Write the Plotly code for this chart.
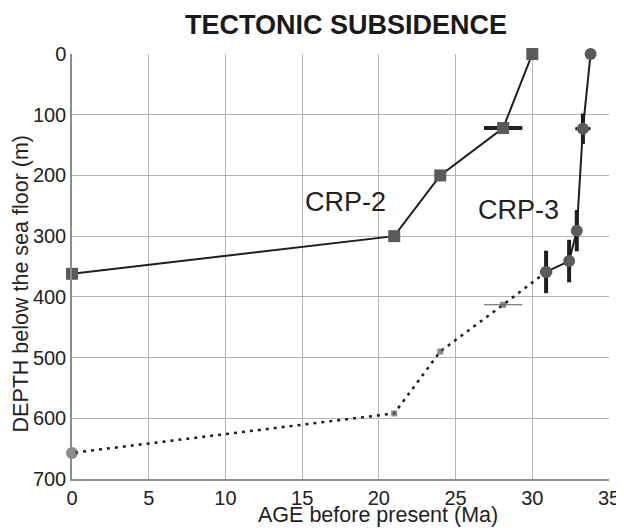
import plotly.graph_objects as go

# CRP-2 (solid line, squares)
crp2_age = [30, 28.1, 24, 21, 0]
crp2_depth = [0, 122, 200, 300, 362]
crp2_age_err = [0, 1.25, 0, 0, 0]

# CRP-3 (solid line, circles)
crp3_age = [33.8, 33.3, 32.9, 32.4, 30.9]
crp3_depth = [0, 123, 291, 341, 359]
crp3_depth_err = [0, 25, 34, 35, 35]
crp3_age_err = [0, 0.5, 0, 0, 0.4]

# CRP-3 continuation (dotted line)
crp3_ext_age = [30.9, 28.1, 24, 21, 0]
crp3_ext_depth = [359, 413, 490, 592, 657]
crp3_ext_age_err = [0, 1.25, 0, 0, 0]

x_ticks = [0, 5, 10, 15, 20, 25, 30, 35]
y_ticks = [0, 100, 200, 300, 400, 500, 600, 700]

FONT = "Liberation Sans, Arial, sans-serif"
LINE = "#1e1e1e"
MARK = "#5a5a5a"
TEXT = "#222"

# page body has an 8px margin, so the figure is 8px smaller each way
W, H = 616, 520

fig = go.Figure()

# dotted continuation
fig.add_trace(go.Scatter(
    x=crp3_ext_age, y=crp3_ext_depth, mode="lines+markers",
    line=dict(color=LINE, width=2.5, dash="3px,5px"),
    marker=dict(symbol=["circle", "square", "square", "square", "circle"],
                size=[12, 6, 6, 6, 12], color=MARK, line=dict(width=0)),
    error_x=dict(type="data", array=crp3_ext_age_err, width=0, thickness=1, color=MARK),
    cliponaxis=False, showlegend=False))

# CRP-2
fig.add_trace(go.Scatter(
    x=crp2_age, y=crp2_depth, mode="lines+markers",
    line=dict(color=LINE, width=2),
    marker=dict(symbol="square", size=12, color=MARK, line=dict(width=0)),
    error_x=dict(type="data", array=crp2_age_err, width=0, thickness=4, color=LINE),
    cliponaxis=False, showlegend=False))

# CRP-3
fig.add_trace(go.Scatter(
    x=crp3_age, y=crp3_depth, mode="lines+markers",
    line=dict(color=LINE, width=2),
    marker=dict(symbol="circle", size=12, color=MARK, line=dict(width=0)),
    error_x=dict(type="data", array=crp3_age_err, width=0, thickness=3, color=LINE),
    error_y=dict(type="data", array=crp3_depth_err, width=0, thickness=4, color=LINE),
    cliponaxis=False, showlegend=False))

fig.add_annotation(x=17.8, y=243, text="CRP-2", showarrow=False,
                   font=dict(family=FONT, size=27, color=TEXT))
fig.add_annotation(x=29.1, y=257, text="CRP-3", showarrow=False,
                   font=dict(family=FONT, size=27, color=TEXT))

# axis titles as paper-positioned annotations
fig.add_annotation(xref="paper", yref="paper", x=0.57, y=-0.085,
                   xanchor="center", yanchor="middle", showarrow=False,
                   text="AGE before present (Ma)",
                   font=dict(family=FONT, size=21.5, color=TEXT))
fig.add_annotation(xref="paper", yref="paper", x=-0.095, y=0.46,
                   xanchor="center", yanchor="middle", showarrow=False,
                   textangle=-90, text="DEPTH below the sea floor (m)",
                   font=dict(family=FONT, size=21.5, color=TEXT))

fig.update_layout(
    width=W, height=H,
    margin=dict(l=64, r=15, t=46, b=49),
    paper_bgcolor="white", plot_bgcolor="white",
    font=dict(family=FONT, color=TEXT),
    title=dict(text="<b>TECTONIC SUBSIDENCE</b>", x=338 / W, xanchor="center",
               xref="container", y=1 - 17 / H, yanchor="middle",
               font=dict(family=FONT, size=27, color="#1a1a1a")),
)
fig.update_xaxes(
    range=[0, 35], tickvals=x_ticks, ticks="", showgrid=True,
    gridcolor="#b4b4b4", gridwidth=1, zeroline=False, automargin=False,
    showline=True, linecolor="#8c8c8c", linewidth=1.5, mirror=False,
    tickfont=dict(family=FONT, size=20, color=TEXT),
)
fig.update_yaxes(
    range=[700, 0], tickvals=y_ticks, ticks="", showgrid=True,
    gridcolor="#b4b4b4", gridwidth=1, zeroline=False, automargin=False,
    showline=True, linecolor="#8c8c8c", linewidth=1.5,
    tickfont=dict(family=FONT, size=20, color=TEXT),
)

fig.write_html("out.html")
